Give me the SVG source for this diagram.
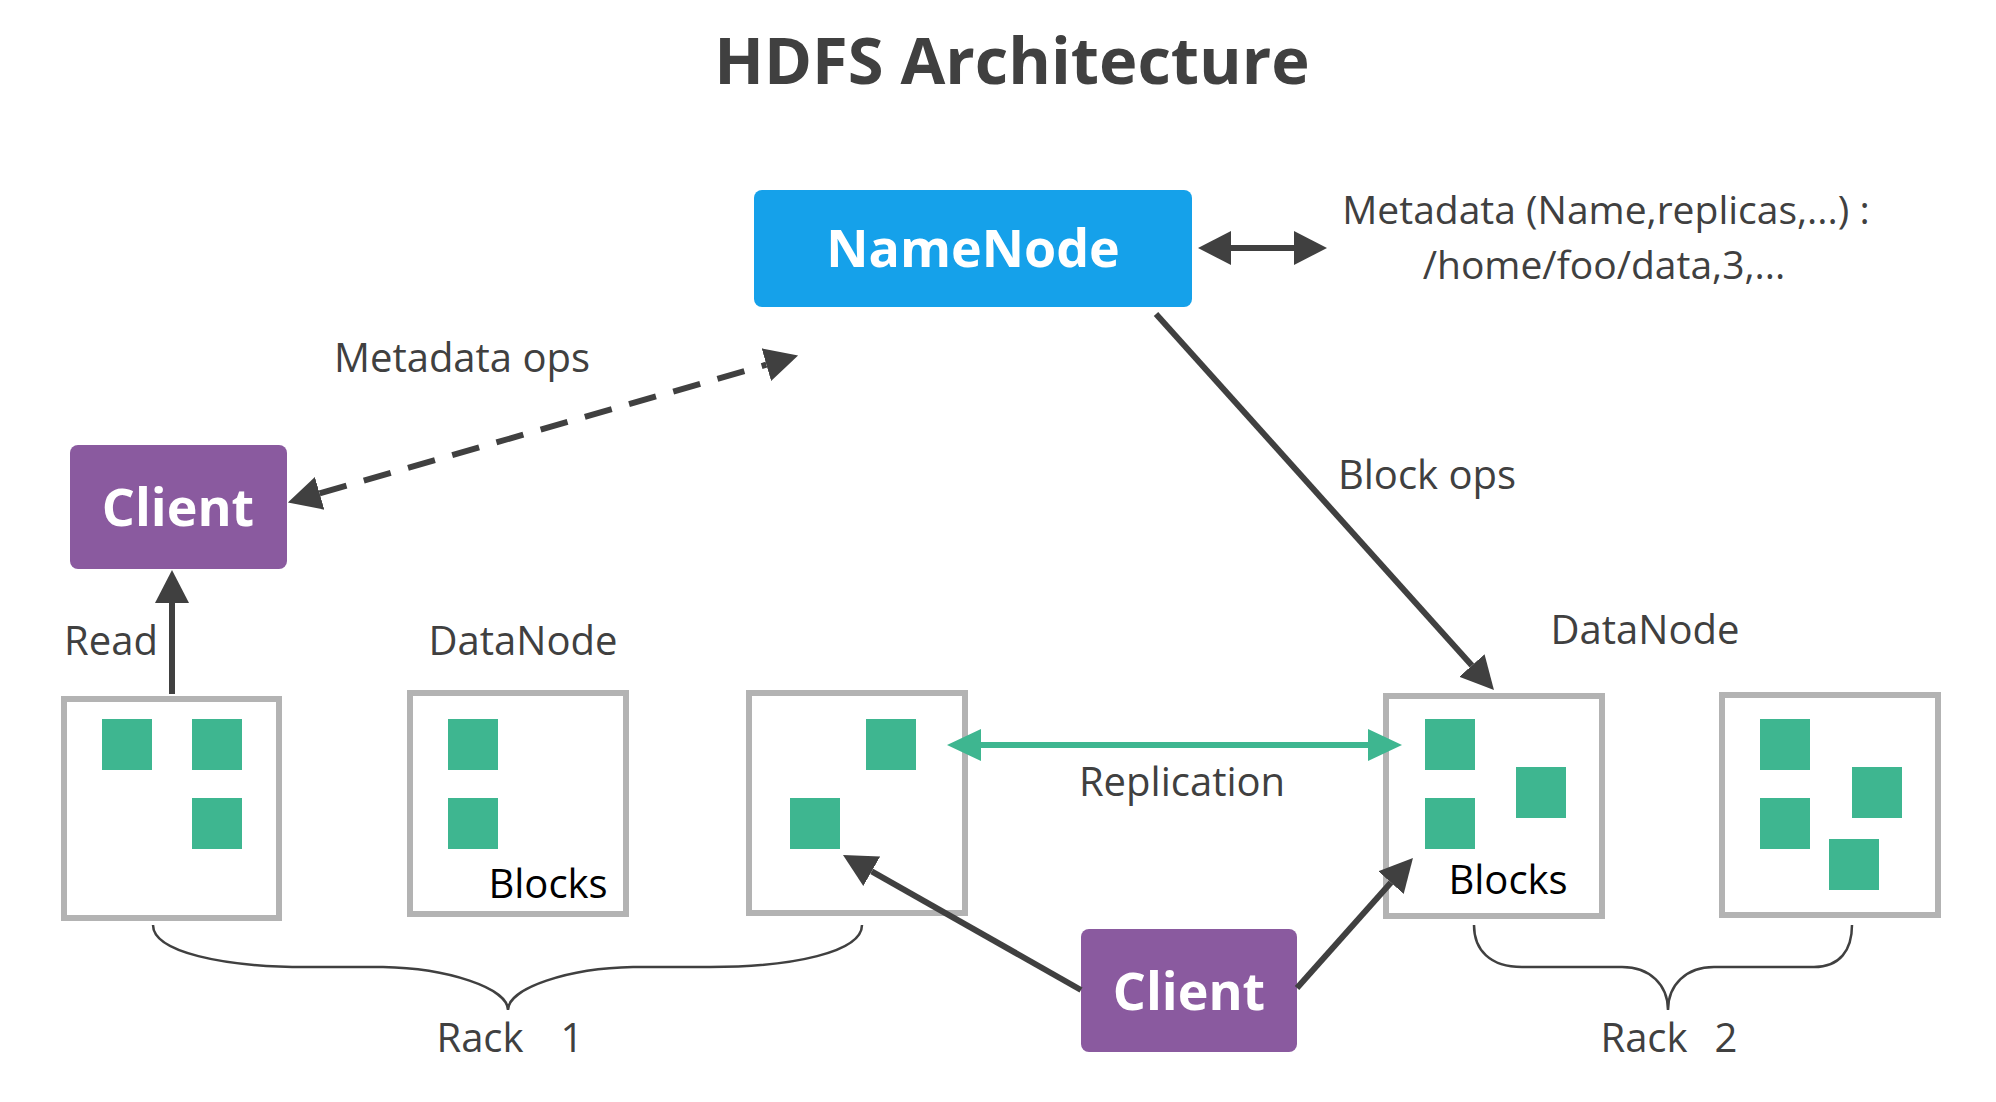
<svg xmlns="http://www.w3.org/2000/svg" width="1996" height="1102" viewBox="0 0 1996 1102">
<style>
  .t{font-family:"Open Sans","Noto Sans","Liberation Sans",sans-serif;fill:#404040;font-size:40px;text-anchor:middle}
  .b{font-family:"Open Sans","Noto Sans","Liberation Sans",sans-serif;font-weight:bold;fill:#ffffff;font-size:52px;text-anchor:middle}
  .blk{font-family:"Open Sans","Noto Sans","Liberation Sans",sans-serif;fill:#000000;font-size:40px;text-anchor:middle}
  .dn{fill:#ffffff;stroke:#b3b3b3;stroke-width:6}
  .sq{fill:#3eb690}
  .c{stroke:#404040;stroke-width:6;fill:none}
  .brace{stroke:#404040;stroke-width:2.5;fill:none}
</style>
<defs>
  <marker id="ah" markerUnits="userSpaceOnUse" markerWidth="36" markerHeight="36" refX="0" refY="17" orient="auto-start-reverse" viewBox="0 0 36 34">
    <path d="M0,0 L33,17 L0,34 Z" fill="#404040"/>
  </marker>
  <marker id="ahg" markerUnits="userSpaceOnUse" markerWidth="36" markerHeight="34" refX="0" refY="16" orient="auto-start-reverse" viewBox="0 0 36 32">
    <path d="M0,0 L34,16 L0,32 Z" fill="#3eb690"/>
  </marker>
</defs>
<rect width="1996" height="1102" fill="#ffffff"/>

<text x="1012" y="84" class="t" style="font-size:65px;font-weight:bold">HDFS Architecture</text>

<g id="namenode">
  <rect x="754" y="190" width="438" height="117" rx="8" fill="#15a1ea"/>
  <text x="973" y="267" class="b">NameNode</text>
</g>

<g id="metadata">
  <text x="1606" y="224" class="t" style="font-size:39px">Metadata (Name,replicas,...) :</text>
  <text x="1604" y="279" class="t" style="font-size:39px">/home/foo/data,3,...</text>
</g>

<g id="client1">
  <rect x="70" y="445" width="217" height="124" rx="8" fill="#8a5a9f"/>
  <text x="178" y="526" class="b">Client</text>
</g>

<g id="client2">
  <rect x="1081" y="929" width="216" height="123" rx="8" fill="#8a5a9f"/>
  <text x="1189" y="1010" class="b">Client</text>
</g>

<g id="labels">
  <text x="462" y="372" class="t">Metadata ops</text>
  <text x="1427" y="489" class="t">Block ops</text>
  <text x="111" y="655" class="t">Read</text>
  <text x="523" y="655" class="t">DataNode</text>
  <text x="1645" y="644" class="t">DataNode</text>
  <text x="1182" y="796" class="t">Replication</text>
  <text x="480" y="1052" class="t">Rack<tspan x="572">1</tspan></text>
  <text x="1644" y="1052" class="t">Rack<tspan x="1726">2</tspan></text>
</g>

<g id="datanode-1">
  <rect class="dn" x="64" y="699" width="215" height="219"/>
  <rect class="sq" x="102" y="719" width="50" height="51"/>
  <rect class="sq" x="192" y="719" width="50" height="51"/>
  <rect class="sq" x="192" y="798" width="50" height="51"/>
</g>
<g id="datanode-2">
  <rect class="dn" x="410" y="693" width="216" height="221"/>
  <rect class="sq" x="448" y="719" width="50" height="51"/>
  <rect class="sq" x="448" y="798" width="50" height="51"/>
  <text x="548" y="898" class="blk">Blocks</text>
</g>
<g id="datanode-3">
  <rect class="dn" x="749" y="693" width="216" height="220"/>
  <rect class="sq" x="866" y="719" width="50" height="51"/>
  <rect class="sq" x="790" y="798" width="50" height="51"/>
</g>
<g id="datanode-4">
  <rect class="dn" x="1386" y="696" width="216" height="220"/>
  <rect class="sq" x="1425" y="719" width="50" height="51"/>
  <rect class="sq" x="1425" y="798" width="50" height="51"/>
  <rect class="sq" x="1516" y="767" width="50" height="51"/>
  <text x="1508" y="894" class="blk">Blocks</text>
</g>
<g id="datanode-5">
  <rect class="dn" x="1722" y="695" width="216" height="220"/>
  <rect class="sq" x="1760" y="719" width="50" height="51"/>
  <rect class="sq" x="1760" y="798" width="50" height="51"/>
  <rect class="sq" x="1852" y="767" width="50" height="51"/>
  <rect class="sq" x="1829" y="839" width="50" height="51"/>
</g>

<g id="connectors">
  <line class="c" x1="319.6" y1="493.3" x2="766.4" y2="364.7" stroke-dasharray="28 18" marker-start="url(#ah)" marker-end="url(#ah)"/>
  <line class="c" x1="1231" y1="248" x2="1294" y2="248" marker-start="url(#ah)" marker-end="url(#ah)"/>
  <line class="c" x1="1156" y1="314" x2="1471.9" y2="665.5" marker-end="url(#ah)"/>
  <line class="c" x1="172" y1="694" x2="172" y2="603" marker-end="url(#ah)"/>
  <line class="c" x1="1081" y1="990" x2="871.7" y2="871.3" marker-end="url(#ah)"/>
  <line class="c" x1="1297" y1="988" x2="1391" y2="882.6" marker-end="url(#ah)"/>
  <line x1="981" y1="745" x2="1368" y2="745" stroke="#3eb690" stroke-width="6" marker-start="url(#ahg)" marker-end="url(#ahg)"/>
  <path class="brace" d="M153,925 C153,952 223,967 306,967 L383,967 C447,968 508,988 508,1010 C508,988 569,968 633,967 L710,967 C793,967 862,952 862,925"/>
  <path class="brace" d="M1474,925 C1474,950 1490,967 1522,967 L1622,967 C1650,967 1668,985 1668,1010 C1668,985 1686,967 1714,967 L1814,967 C1840,967 1852,950 1852,925"/>
</g>
</svg>
